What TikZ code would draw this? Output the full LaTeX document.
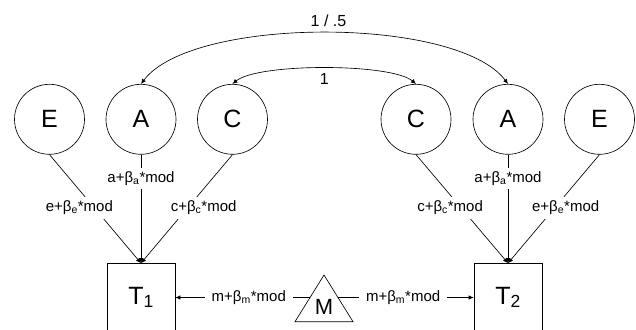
\documentclass[tikz,border=0pt]{standalone}
\usepackage{fontspec}
\setmainfont{Liberation Sans}
\usetikzlibrary{arrows.meta}

\begin{document}
\begin{tikzpicture}[x=1pt,y=-1pt,line width=0.65pt,
                >={Latex[length=5pt,width=4.5pt]},
                latent/.style={circle,draw,minimum size=70pt,inner sep=0pt,font=\fontsize{25}{30}\selectfont},
                twin/.style={rectangle,draw,minimum width=68pt,minimum height=68pt,inner sep=0pt,font=\fontsize{25}{30}\selectfont},
                coef/.style={fill=white,inner xsep=7pt,inner ysep=4pt,font=\fontsize{15}{18}\selectfont}]
                \useasboundingbox (0,0) rectangle (636,329);
                \clip (0,0) rectangle (636,329);
                %% twin 1 factors
                \node[latent] (E1) at (49.5,119.3) {E};
                \node[latent] (A1) at (141,119.3) {A};
                \node[latent] (C1) at (232.5,119.3) {C};
                %% twin 2 factors
                \node[latent] (C2) at (416,119.3) {C};
                \node[latent] (A2) at (508,119.3) {A};
                \node[latent] (E2) at (599.5,119.3) {E};
                %% twins
                \node[twin] (T1) at (141,297.5) {T\textsubscript{1}};
                \node[twin] (T2) at (508,297.5) {T\textsubscript{2}};
                %% moderator
                \draw (295,321.7) -- (324,275) -- (353,321.7) -- cycle;
                \node[font=\fontsize{22}{26}\selectfont] (M) at (324,307) {M};
                \coordinate (Mw) at (309.9,297.5);
                \coordinate (Me) at (338.1,297.5);
                %% correlations
                \draw[<->] (A1.north) .. controls (192,16) and (457,16) .. (A2.north)
                        node[midway,above=3pt,xshift=4pt,font=\fontsize{16}{19}\selectfont] {1 / .5};
                \draw[<->] (C1.north) .. controls (257.5,63) and (391,63) .. (C2.north)
                        node[midway,below=2pt,font=\fontsize{16}{19}\selectfont] {1};
                %% paths to twin 1
                \draw[->] (E1.south) -- (T1.north) node[coef,pos=.49,xshift=-15pt] {e+β\textsubscript{e}*mod};
                \draw[->] (A1.south) -- (T1.north) node[coef,pos=.22] {a+β\textsubscript{a}*mod};
                \draw[->] (C1.south) -- (T1.north) node[coef,pos=.49,xshift=16pt] {c+β\textsubscript{c}*mod};
                %% paths to twin 2
                \draw[->] (C2.south) -- (T2.north) node[coef,pos=.49,xshift=-11pt] {c+β\textsubscript{c}*mod};
                \draw[->] (A2.south) -- (T2.north) node[coef,pos=.22] {a+β\textsubscript{a}*mod};
                \draw[->] (E2.south) -- (T2.north) node[coef,pos=.49,xshift=11pt] {e+β\textsubscript{e}*mod};
                %% moderation
                \draw[->] (Mw) -- (T1.east) node[coef,pos=.454] {m+β\textsubscript{m}*mod};
                \draw[->] (Me) -- (T2.west) node[coef,pos=.48] {m+β\textsubscript{m}*mod};
            \end{tikzpicture}
\end{document}
